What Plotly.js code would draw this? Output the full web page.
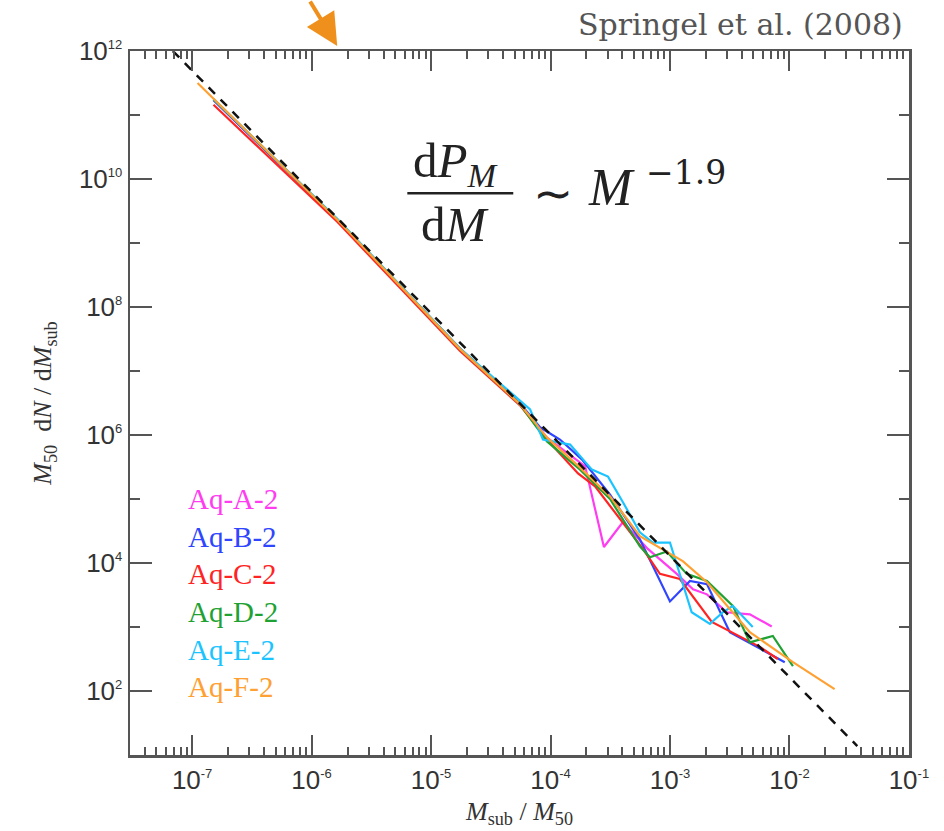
<!DOCTYPE html>
<html>
<head>
<meta charset="utf-8">
<script src="https://cdn.plot.ly/plotly-3.0.1.min.js"></script>
<style>html,body{margin:0;padding:0;background:#fff;}#chart{width:944px;height:831px;}</style>
</head>
<body>
<div id="chart"></div>
<script>
// ---- data ----
const seriesNames = ["Aq-A-2", "Aq-B-2", "Aq-C-2", "Aq-D-2", "Aq-E-2", "Aq-F-2"];
const seriesColors = ["#ff3cf0", "#2f45ff", "#ff2424", "#1fa233", "#1cc4ff", "#ffa032"];

const massA = [1.51e-7, 1.64e-6, 1.75e-5, 5.56e-5, 9.35e-5, 1.95e-4, 2.80e-4, 4.04e-4, 6.53e-4, 1.14e-3, 1.56e-3, 2.04e-3, 2.99e-3, 4.66e-3, 7.11e-3];
const dndmA = [1.70e11, 2.30e9, 2.20e7, 3.00e6, 9.12e5, 3.24e5, 1.78e4, 4.37e4, 1.66e4, 6.76e3, 3.89e3, 3.24e3, 1.70e3, 1.58e3, 1.02e3];

const massB = [1.51e-7, 1.64e-6, 1.75e-5, 5.56e-5, 8.17e-5, 1.20e-4, 1.83e-4, 3.15e-4, 5.60e-4, 1.00e-3, 1.47e-3, 2.04e-3, 3.17e-3, 5.65e-3, 9.14e-3];
const dndmB = [1.72e11, 2.30e9, 2.25e7, 3.10e6, 1.32e6, 8.51e5, 4.17e5, 1.17e5, 2.34e4, 2.51e3, 5.25e3, 4.68e3, 832, 457, 282];

const massC = [1.51e-7, 1.64e-6, 1.75e-5, 5.56e-5, 9.35e-5, 1.70e-4, 2.36e-4, 5.93e-4, 8.24e-4, 1.21e-3, 2.24e-3, 5.65e-3, 7.98e-3];
const dndmC = [1.45e11, 2.15e9, 2.05e7, 2.90e6, 8.51e5, 2.51e5, 1.58e5, 1.66e4, 6.76e3, 5.62e3, 1.20e3, 490, 316];

const massD = [1.51e-7, 1.64e-6, 1.75e-5, 5.56e-5, 9.35e-5, 1.77e-4, 3.15e-4, 5.60e-4, 6.79e-4, 9.42e-4, 1.38e-3, 2.04e-3, 3.36e-3, 4.66e-3, 7.26e-3, 1.07e-2];
const dndmD = [1.76e11, 2.35e9, 2.20e7, 3.02e6, 7.94e5, 2.88e5, 1.00e5, 1.82e4, 1.23e4, 1.51e4, 6.76e3, 5.25e3, 2.14e3, 575, 724, 245];

const massE = [1.51e-7, 1.64e-6, 1.75e-5, 6.75e-5, 8.65e-5, 1.46e-4, 2.22e-4, 3.03e-4, 4.04e-4, 5.60e-4, 7.19e-4, 1.00e-3, 1.52e-3, 2.16e-3, 2.77e-3, 3.36e-3, 4.93e-3];
const dndmE = [1.78e11, 2.40e9, 2.25e7, 2.51e6, 8.51e5, 7.08e5, 2.88e5, 2.24e5, 8.91e4, 3.02e4, 2.09e4, 2.09e4, 1.70e3, 1.12e3, 1.70e3, 2.14e3, 1.00e3];

const massF = [1.11e-7, 1.64e-6, 1.75e-5, 5.56e-5, 9.35e-5, 1.77e-4, 3.15e-4, 5.60e-4, 1.28e-3, 2.04e-3, 4.66e-3, 1.07e-2, 2.39e-2];
const dndmF = [3.16e11, 2.32e9, 2.20e7, 3.02e6, 9.12e5, 3.09e5, 1.10e5, 2.63e4, 1.07e4, 5.01e3, 832, 282, 107];

const fitMass = [6.9e-8, 3.7e-2];
const fitDndm = [1.0e12, 13.8];

const xTickVals = [1e-7, 1e-6, 1e-5, 1e-4, 1e-3, 1e-2, 1e-1];
const xTickExp = ["-7", "-6", "-5", "-4", "-3", "-2", "-1"];
const yTickVals = [1e2, 1e4, 1e6, 1e8, 1e10, 1e12];
const yTickExp = ["2", "4", "6", "8", "10", "12"];

const masses = [massA, massB, massC, massD, massE, massF];
const dndms = [dndmA, dndmB, dndmC, dndmD, dndmE, dndmF];

const powLabel = e => '10<sup><span style="font-size:13px">' + e + '</span></sup>';

// ---- traces ----
const traces = [];
for (let i = 0; i < seriesNames.length; i++) {
  traces.push({
    x: masses[i], y: dndms[i], mode: 'lines', name: seriesNames[i], showlegend: false,
    line: {color: seriesColors[i], width: 2.2}
  });
}
traces.push({
  x: fitMass, y: fitDndm, mode: 'lines', name: 'M^-1.9', showlegend: false,
  line: {color: '#111', width: 2.5, dash: '9px,8px'}, hoverinfo: 'skip'
});

// ---- label annotations (legend as coloured text) ----
const annotations = seriesNames.map((n, i) => ({
  xref: 'paper', yref: 'paper', x: 0.072, y: 0.363 - i * 0.0533,
  xanchor: 'left', yanchor: 'middle', showarrow: false, text: n,
  font: {family: 'Liberation Serif, serif', size: 29, color: seriesColors[i]}
}));

const serif = 'Liberation Serif, Times New Roman, serif';
const nb = '\u00a0';
annotations.push(
  {xref: 'paper', yref: 'paper', x: 0.418, y: 0.840, xanchor: 'center', yanchor: 'middle', showarrow: false,
   text: 'd<i>P</i><sub><i>M</i></sub>', font: {family: serif, size: 49, color: '#222'}},
  {xref: 'paper', yref: 'paper', x: 0.418, y: 0.754, xanchor: 'center', yanchor: 'middle', showarrow: false,
   text: 'd<i>M</i>', font: {family: serif, size: 49, color: '#222'}},
  {xref: 'paper', yref: 'paper', x: 0.543, y: 0.797, xanchor: 'center', yanchor: 'middle', showarrow: false,
   text: '∼', font: {family: serif, size: 48, color: '#222'}},
  {xref: 'paper', yref: 'paper', x: 0.586, y: 0.806, xanchor: 'left', yanchor: 'middle', showarrow: false,
   text: '<i>M</i>', font: {family: serif, size: 52, color: '#222'}},
  {xref: 'paper', yref: 'paper', x: 0.660, y: 0.828, xanchor: 'left', yanchor: 'middle', showarrow: false,
   text: '−1.9', font: {family: 'DejaVu Serif, serif', size: 33, color: '#222'}},
  {xref: 'paper', yref: 'paper', x: 0.995, y: 1.037, xanchor: 'right', yanchor: 'middle', showarrow: false,
   text: 'Springel et al. (2008)', font: {family: 'DejaVu Serif, serif', size: 30, color: '#555'}},
  {xref: 'paper', yref: 'paper', x: 0.266, y: 1.0071, showarrow: true, text: '',
   ax: -28, ay: -58, arrowcolor: '#f0901c', arrowwidth: 4, arrowhead: 2, arrowsize: 1.6}
);

const axisCommon = {
  type: 'log', showline: true, linecolor: '#555', linewidth: 2.5, mirror: 'ticks',
  ticks: 'inside', tickcolor: '#555', tickwidth: 2, showgrid: false, zeroline: false,
  tickmode: 'array',
  tickfont: {family: 'Liberation Sans, Arial, sans-serif', size: 26, color: '#333'}
};

const layout = {
  width: 944, height: 831,
  margin: {l: 130, r: 35, t: 51, b: 76},
  paper_bgcolor: '#fff', plot_bgcolor: '#fff',
  showlegend: false,
  xaxis: Object.assign({}, axisCommon, {
    range: [-7.52, -0.999], tickvals: xTickVals, ticktext: xTickExp.map(powLabel), ticklen: 20,
    minor: {dtick: 'D1', ticks: 'inside', ticklen: 8, tickcolor: '#555', tickwidth: 2},
    title: {text: '<i>M</i><sub>sub</sub>' + nb + '/' + nb + '<i>M</i><sub>50</sub>', font: {family: serif, size: 26, color: '#333'}, standoff: 8}
  }),
  xaxis2: Object.assign({}, axisCommon, {
    overlaying: 'x', side: 'top', anchor: 'y', showline: false,
    range: [-7.52, -0.999], tickvals: xTickVals, ticktext: xTickExp.map(powLabel), ticklen: 20, showticklabels: false,
    minor: {dtick: 'D1', ticks: 'inside', ticklen: 8, tickcolor: '#555', tickwidth: 2}
  }),
  yaxis: Object.assign({}, axisCommon, {
    range: [1.0, 12.001], tickvals: yTickVals, ticktext: yTickExp.map(powLabel), ticklen: 22,
    minor: {dtick: 1, ticks: 'inside', ticklen: 10, tickcolor: '#555', tickwidth: 2},
    title: {text: '<i>M</i><sub>50</sub>' + nb + nb + 'd<i>N</i>' + nb + '/' + nb + 'd<i>M</i><sub>sub</sub>',
            font: {family: serif, size: 26, color: '#333'}, standoff: 20}
  }),
  shapes: [{type: 'line', xref: 'paper', yref: 'paper', x0: 0.356, x1: 0.492, y0: 0.798, y1: 0.798,
            line: {color: '#222', width: 2.5}}],
  annotations: annotations
};

Plotly.newPlot('chart', traces, layout, {displayModeBar: false, staticPlot: true});
</script>
</body>
</html>
